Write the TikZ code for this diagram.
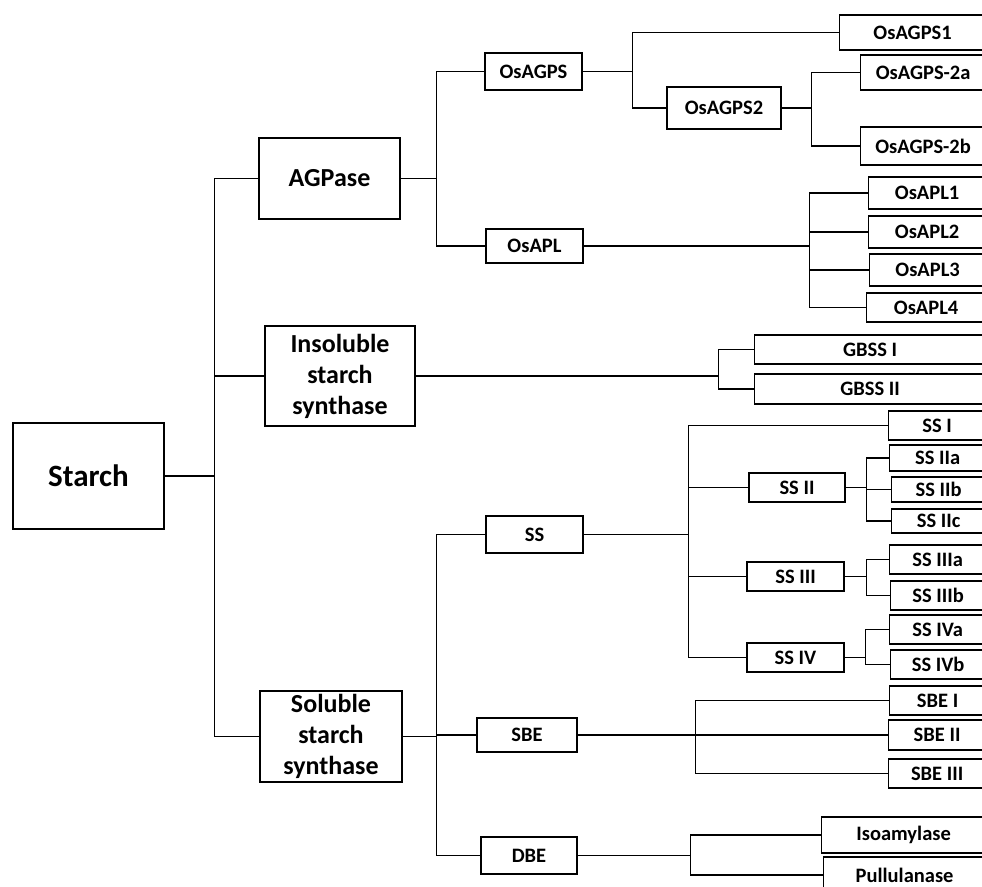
\documentclass[tikz,border=0pt]{standalone}
\usepackage{fontspec}
\setmainfont{Carlito}

\begin{document}
\begin{tikzpicture}[x=1pt,y=-1pt,
  box/.style={draw,line width=1.2pt,inner sep=0pt,align=center,font=\bfseries\fontsize{20.5}{24}\selectfont},
  root/.style={box,font=\bfseries\fontsize{31}{37}\selectfont},
  group/.style={box,font=\bfseries\fontsize{26}{31}\selectfont},
  leaf/.style={box,anchor=west},
  link/.style={line width=1.2pt}]

% Frame of the picture
\useasboundingbox (0,0) rectangle (982,886);
\clip (0,0) rectangle (982,886);

% Root and main groups
\node[root,minimum width=151pt,minimum height=106pt] (St) at (88.5,476) {Starch};
\node[group,minimum width=141pt,minimum height=81pt] (AGP) at (329.5,178.5) {AGPase};
\node[group,minimum width=150pt,minimum height=100pt] (Ins) at (340,376) {Insoluble\\starch\\synthase};
\node[group,minimum width=142pt,minimum height=91pt] (Sol) at (331,736.5) {Soluble\\starch\\synthase};

% Second level
\node[box,minimum width=97pt,minimum height=37pt] (AGPS) at (533.5,71.5) {OsAGPS};
\node[box,minimum width=114pt,minimum height=42pt] (AGPS2) at (724,108) {OsAGPS2};
\node[box,minimum width=97pt,minimum height=34pt] (APL) at (534.5,246) {OsAPL};
\node[box,minimum width=97pt,minimum height=37pt] (SS) at (534.5,534.5) {SS};
\node[box,minimum width=100pt,minimum height=34pt] (SBE) at (527,735) {SBE};
\node[box,minimum width=96pt,minimum height=37pt] (DBE) at (529,855.5) {DBE};
\node[box,minimum width=96pt,minimum height=29pt] (SS2) at (797,487.5) {SS II};
\node[box,minimum width=97pt,minimum height=29pt] (SS3) at (795.5,576.5) {SS III};
\node[box,minimum width=97pt,minimum height=29pt] (SS4) at (795.5,657.5) {SS IV};

% Leaves (cut by the right edge)
\node[leaf,minimum width=146pt,minimum height=35pt] (AGPS1) at (839,32.5) {OsAGPS1};
\node[leaf,minimum width=125pt,minimum height=35pt] (AGPS2a) at (860,72.5) {OsAGPS-2a};
\node[leaf,minimum width=125pt,minimum height=38pt] (AGPS2b) at (860,146) {OsAGPS-2b};
\node[leaf,minimum width=117pt,minimum height=32pt] (APL1) at (868,193) {OsAPL1};
\node[leaf,minimum width=117pt,minimum height=32pt] (APL2) at (868,232) {OsAPL2};
\node[leaf,minimum width=116pt,minimum height=32pt] (APL3) at (869,270) {OsAPL3};
\node[leaf,minimum width=119pt,minimum height=29pt] (APL4) at (866,307.5) {OsAPL4};
\node[leaf,minimum width=231pt,minimum height=29pt] (GB1) at (754,349.5) {GBSS I};
\node[leaf,minimum width=231pt,minimum height=30pt] (GB2) at (754,389) {GBSS II};
\node[leaf,minimum width=97pt,minimum height=29pt] (SS1) at (888,425.5) {SS I};
\node[leaf,minimum width=96pt,minimum height=26pt] (SS2a) at (889,458) {SS IIa};
\node[leaf,minimum width=94pt,minimum height=25pt] (SS2b) at (891,489.5) {SS IIb};
\node[leaf,minimum width=94pt,minimum height=24pt] (SS2c) at (891,521) {SS IIc};
\node[leaf,minimum width=96pt,minimum height=29pt] (SS3a) at (889,559.5) {SS IIIa};
\node[leaf,minimum width=95pt,minimum height=29pt] (SS3b) at (890,595.5) {SS IIIb};
\node[leaf,minimum width=96pt,minimum height=29pt] (SS4a) at (889,629.5) {SS IVa};
\node[leaf,minimum width=95pt,minimum height=29pt] (SS4b) at (890,664.5) {SS IVb};
\node[leaf,minimum width=96pt,minimum height=29pt] (SBE1) at (889,700.5) {SBE I};
\node[leaf,minimum width=97pt,minimum height=30pt] (SBE2) at (888,735) {SBE II};
\node[leaf,minimum width=97pt,minimum height=29pt] (SBE3) at (888,773.5) {SBE III};
\node[leaf,minimum width=164pt,minimum height=36pt] (Iso) at (821,835) {Isoamylase};
\node[leaf,minimum width=162pt,minimum height=36pt] (Pul) at (823,875) {Pullulanase};

% Starch branches
\draw[link] (St.east) -- ++(50,0) coordinate (S0);
\draw[link] (AGP.west) -| (S0) |- (Sol.west);
\draw[link] (S0 |- Ins.west) -- (Ins.west);

% AGPase branches
\draw[link] (AGP.east) -- ++(36,0) coordinate (A0);
\draw[link] (AGPS.west) -| (A0) |- (APL.west);
\draw[link] (AGPS.east) -- ++(50,0) coordinate (P0);
\draw[link] (AGPS1.west) -| (P0) |- (AGPS2.west);
\draw[link] (AGPS2.east) -- ++(30,0) coordinate (P1);
\draw[link] (AGPS2a.west) -| (P1) |- (AGPS2b.west);
\draw[link] (APL.east) -- ++(226,0) coordinate (L0);
\draw[link] (APL1.west) -| (L0) |- (APL4.west);
\foreach \n in {2,3}
  \draw[link] (L0 |- APL\n.west) -- (APL\n.west);

% Insoluble branches
\draw[link] (Ins.east) -- ++(303,0) coordinate (G0);
\draw[link] (GB1.west) -| (G0) |- (GB2.west);

% Soluble branches
\draw[link] (Sol.east) -- ++(34,0) coordinate (B0);
\draw[link] (SS.west) -| (B0) |- (DBE.west);
\draw[link] (B0 |- SBE.west) -- (SBE.west);

% SS family
\draw[link] (SS.east) -- ++(105,0) coordinate (Q0);
\draw[link] (SS1.west) -| (Q0) |- (SS4.west);
\foreach \n in {SS2,SS3}
  \draw[link] (Q0 |- \n.west) -- (\n.west);
\draw[link] (SS2.east) -- ++(21,0) coordinate (Q1);
\draw[link] (SS2a.west) -| (Q1) |- (SS2c.west);
\draw[link] (Q1 |- SS2b.west) -- (SS2b.west);
\draw[link] (SS3.east) -- ++(22,0) coordinate (Q2);
\draw[link] (SS3a.west) -| (Q2) |- (SS3b.west);
\draw[link] (SS4.east) -- ++(21,0) coordinate (Q3);
\draw[link] (SS4a.west) -| (Q3) |- (SS4b.west);

% SBE and DBE families
\draw[link] (SBE.east) -- ++(118,0) coordinate (R0);
\draw[link] (SBE1.west) -| (R0) |- (SBE3.west);
\draw[link] (R0) -- (SBE2.west);
\draw[link] (DBE.east) -- ++(113,0) coordinate (D0);
\draw[link] (Iso.west) -| (D0) |- (Pul.west);

\end{tikzpicture}
\end{document}
